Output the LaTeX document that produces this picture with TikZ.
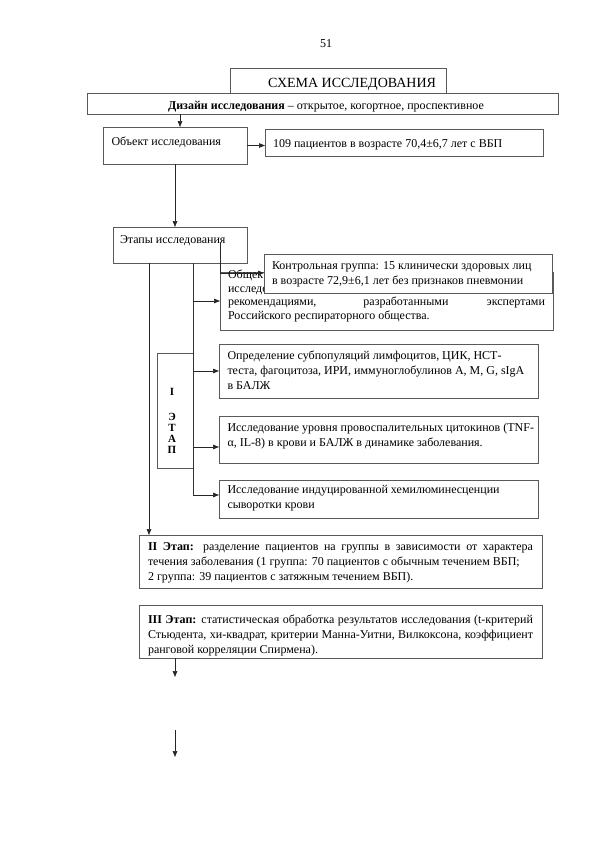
\documentclass[tikz,border=0pt]{standalone}
\usepackage{fontspec}
\setmainfont{Liberation Serif}
\usetikzlibrary{arrows.meta}
% #1 box width, #2 box height, #3 left pad, #4 top pad, #5 inner text width, #6 text
\newcommand\bxt[6]{\parbox[c][#2][t]{#1}{\vspace*{#4}\hspace*{#3}\parbox[t]{#5}{#6}}}
\begin{document}
\begin{tikzpicture}[x=1pt,y=-1pt,
  every node/.style={font=\fontsize{12}{15}\selectfont},
  box/.style={draw=black!65, line width=0.75pt, fill=white, inner sep=0pt, outer sep=0pt, anchor=north west},
  arr/.style={draw=black!85, line width=0.7pt, -{Triangle[length=6pt,width=4.5pt]}},
  plain/.style={draw=black!80, line width=0.8pt}]
\useasboundingbox[fill=white] (0,0) rectangle (594,841);

\node (pg) at (326,44) {51};

\node[box] (sch) at (230,68) {\bxt{216pt}{25pt}{28pt}{8.2pt}{188pt}{\fontsize{14}{16}\selectfont\centering\strut СХЕМА ИССЛЕДОВАНИЯ}};
\node[box] (diz) at (87,93) {\bxt{471pt}{21pt}{7pt}{5.5pt}{464pt}{\centering\strut\textbf{Дизайн исследования} – открытое, когортное, проспективное}};

\node[box] (ob) at (103,127) {\bxt{144pt}{37pt}{8.5pt}{7.5pt}{127pt}{\strut Объект исследования}};
\node[box] (p109) at (265,129) {\bxt{278pt}{27pt}{8pt}{7.5pt}{262pt}{\strut 109 пациентов в возрасте 70,4±6,7 лет с ВБП}};

\node[box] (et) at (113,227) {\bxt{134pt}{36pt}{7pt}{6.2pt}{120pt}{\strut Этапы исследования}};

\node[box] (obsh) at (220,272) {\bxt{333pt}{58pt}{8pt}{-2.5pt}{317pt}{\fontsize{12}{13.5}\selectfont\strut Общек\\
исследо\\
\makebox[\linewidth][s]{рекомендациями, разработанными экспертами}\\
Российского респираторного общества.}};

\node[box] (etap1) at (157,353) {\bxt{36pt}{115pt}{0pt}{35.5pt}{30pt}{\fontsize{11}{10.7}\selectfont\bfseries\centering\strut I\\[14.3pt]Э\\Т\\А\\П}};

\node[box] (b1) at (219,344) {\bxt{319pt}{54pt}{8.5pt}{4.5pt}{302pt}{\strut Определение субпопуляций лимфоцитов, ЦИК, НСТ-\\
\mbox{теста, фагоцитоза, ИРИ, иммуноглобулинов А, М, G, sIgA}\\
в БАЛЖ}};
\node[box] (b2) at (219,416) {\bxt{319pt}{47pt}{8.5pt}{5.2pt}{302pt}{\strut\mbox{Исследование уровня провоспалительных цитокинов (TNF-}\\
α, IL-8) в крови и БАЛЖ в динамике заболевания.}};
\node[box] (b3) at (219,480) {\bxt{319pt}{38pt}{8.5pt}{2.5pt}{302pt}{\strut Исследование индуцированной хемилюминесценции\\
сыворотки крови}};

\node[box] (two) at (139,535) {\bxt{403pt}{53pt}{9pt}{4.5pt}{385pt}{\strut\makebox[\linewidth][s]{\textbf{II Этап:} разделение пациентов на группы в зависимости от характера}\\
\mbox{течения заболевания (1 группа: 70 пациентов с обычным течением ВБП;}\\
2 группа: 39 пациентов с затяжным течением ВБП).}};
\node[box] (three) at (139,605) {\bxt{403pt}{53pt}{9pt}{8pt}{385pt}{\strut\makebox[\linewidth][s]{\textbf{III Этап:} статистическая обработка результатов исследования (t-критерий}\\
\makebox[\linewidth][s]{Стьюдента, хи-квадрат, критерии Манна-Уитни, Вилкоксона, коэффициент}\\
ранговой корреляции Спирмена).}};

% connectors
\coordinate (a1) at ([xshift=5pt]ob.north);
\draw[arr] (a1 |- diz.south) -- (a1);
\draw[arr] (ob.east) -- (ob.east -| p109.west);
\draw[arr] (ob.south) -- (ob.south |- et.north);

\coordinate (v1) at ([xshift=-31pt]et.south);
\draw[arr] (v1) -- (v1 |- two.north);

\coordinate (v2) at ([xshift=13pt]et.south);
\coordinate (b2a) at ([yshift=-7.5pt]b2.west);
\coordinate (b3a) at ([yshift=4pt]b3.west);
\draw[plain] (v2) -- (v2 |- b3a);
\draw[arr] (v2 |- obsh.west) -- (obsh.west);
\draw[arr] (v2 |- b1.west) -- (b1.west);
\draw[arr] (v2 |- b2a) -- (b2a);
\draw[arr] (v2 |- b3a) -- (b3a);

\coordinate (s1) at ([xshift=-27pt,yshift=20pt]et.south east);
\draw[arr] (s1) |- (264,273);

\node[box] (kontr) at (264,254) {\bxt{288pt}{39pt}{8pt}{5pt}{272pt}{\strut Контрольная группа: 15 клинически здоровых лиц\\
в возрасте 72,9±6,1 лет без признаков пневмонии}};

\coordinate (t1) at ([xshift=-165.5pt]three.south);
\coordinate (e1) at ([yshift=-19pt]t1);
\draw[arr] (t1) -- (e1);
\coordinate (e2a) at ([yshift=-72pt]t1);
\coordinate (e2b) at ([yshift=-99pt]t1);
\draw[arr] (e2a) -- (e2b);
\end{tikzpicture}
\end{document}
